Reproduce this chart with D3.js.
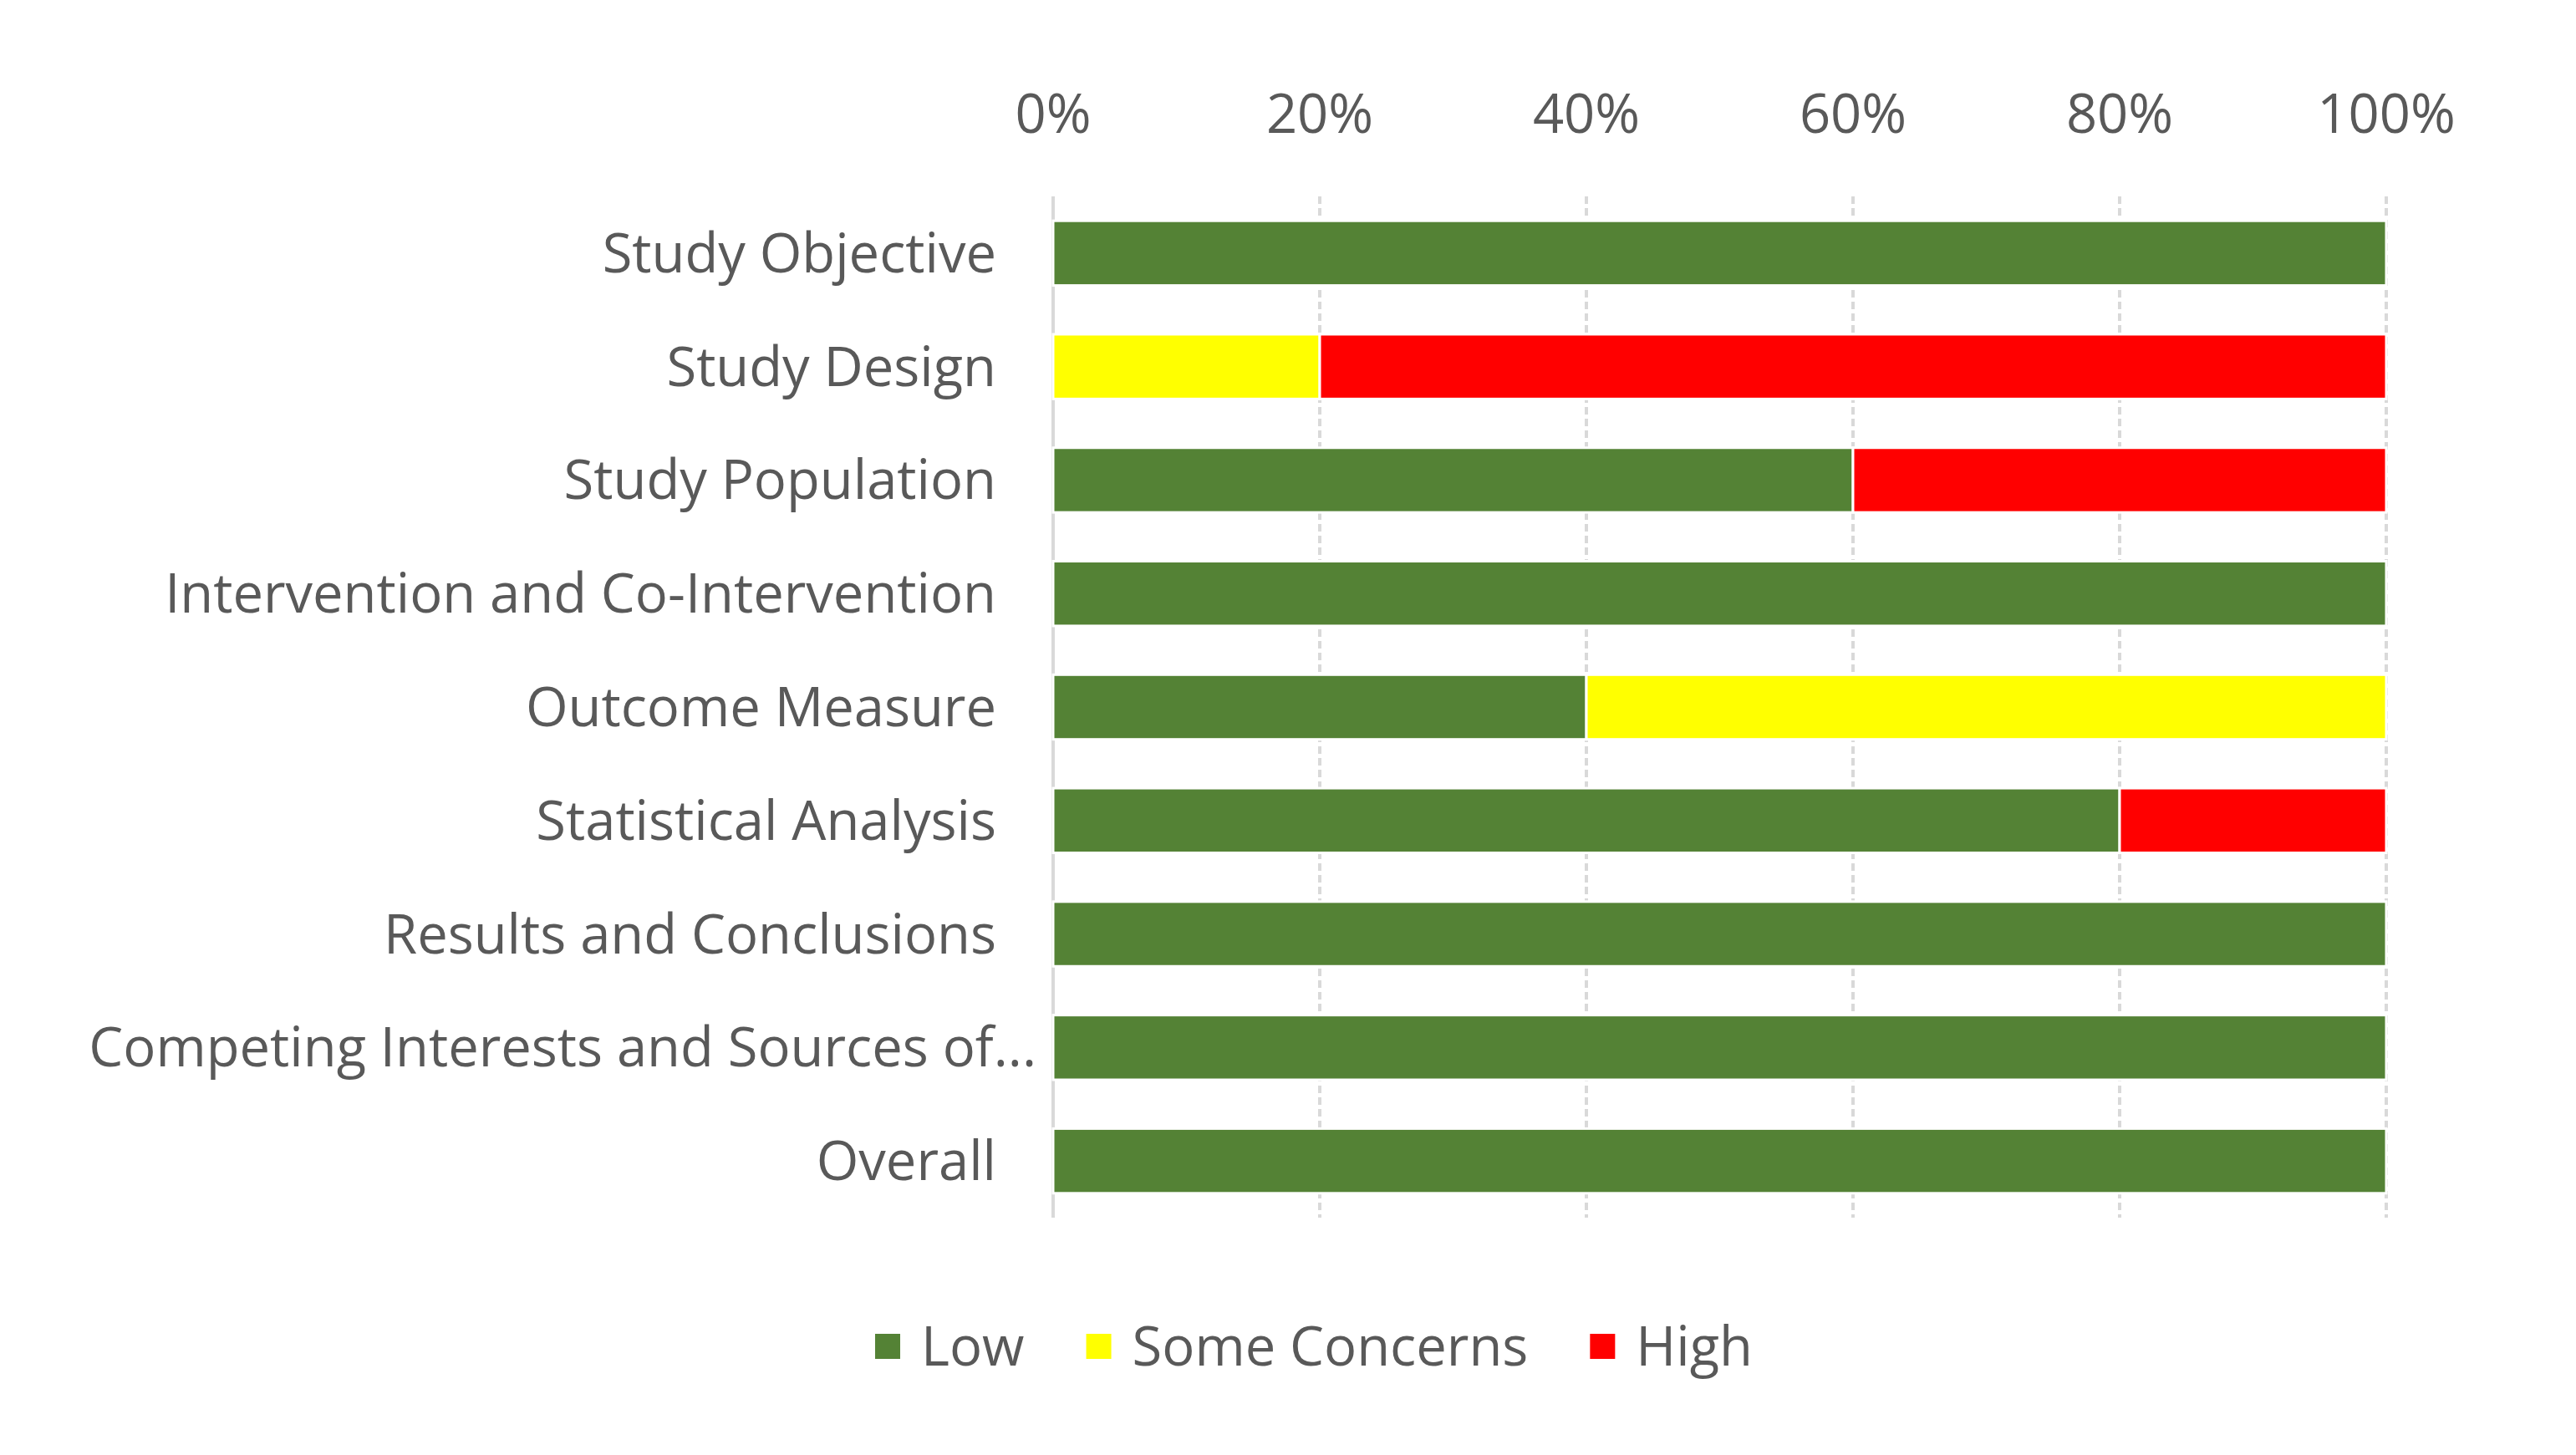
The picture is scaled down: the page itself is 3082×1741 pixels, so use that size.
<!DOCTYPE html>
<html>
<head>
<meta charset="utf-8">
<script src="https://cdn.jsdelivr.net/npm/d3@7"></script>
<style>
html,body{margin:0;padding:0;background:#fff;}
svg{display:block;}
</style>
</head>
<body>
<svg id="chart" width="3082" height="1741"></svg>
<script>
const categories = [
  "Study Objective",
  "Study Design",
  "Study Population",
  "Intervention and Co-Intervention",
  "Outcome Measure",
  "Statistical Analysis",
  "Results and Conclusions",
  "Competing Interests and Sources of...",
  "Overall"
];
const seriesNames = ["Low", "Some Concerns", "High"];
const lowValues     = [100, 0, 60, 100, 40, 80, 100, 100, 100];
const someValues    = [0, 20, 0, 0, 60, 0, 0, 0, 0];
const highValues    = [0, 80, 40, 0, 0, 20, 0, 0, 0];
const tickValues    = [0, 20, 40, 60, 80, 100];
const seriesColors  = ["#548235", "#FFFF00", "#FF0000"];

const FONT = "'Open Sans', sans-serif";
const FS = 65;
const TXT = "#595959";

const svg = d3.select("#chart");

const x = d3.scaleLinear().domain([0, 100]).range([1260, 2855]);
const y = d3.scaleBand().domain(categories).range([235, 1457]).paddingInner(0.43).paddingOuter(0.215);

// horizontal compression to mimic a narrow font
const probe = svg.append("text").attr("font-family", FONT).attr("font-size", FS)
  .text("Intervention and Co-Intervention");
const natural = probe.node().getComputedTextLength();
probe.remove();
const sx = 995 / natural;

// gridlines
const grid = svg.append("g");
grid.selectAll("line").data(tickValues).join("line")
  .attr("x1", d => x(d)).attr("x2", d => x(d))
  .attr("y1", y.range()[0]).attr("y2", y.range()[1])
  .attr("stroke", "#d9d9d9").attr("stroke-width", 4)
  .attr("stroke-dasharray", d => d === 0 ? null : "9,5");

// tick labels (top)
const tg = svg.append("g");
tg.selectAll("text").data(tickValues).join("text")
  .attr("transform", d => `translate(${x(d)},159) scale(${sx},1)`)
  .attr("text-anchor", "middle")
  .attr("font-family", FONT).attr("font-size", FS).attr("fill", TXT)
  .text(d => d + "%");

// stacked data
const rows = categories.map((c, i) => ({cat: c, Low: lowValues[i], "Some Concerns": someValues[i], High: highValues[i]}));
const stack = d3.stack().keys(seriesNames)(rows);

const bars = svg.append("g");
stack.forEach((layer, si) => {
  bars.append("g").attr("fill", seriesColors[si])
    .selectAll("rect").data(layer.filter(d => d[1] - d[0] > 0)).join("rect")
    .attr("x", d => x(d[0]))
    .attr("width", d => x(d[1]) - x(d[0]))
    .attr("y", d => y(d.data.cat))
    .attr("height", y.bandwidth())
    .attr("stroke", "#ffffff").attr("stroke-width", 3);
});

// category labels
const cg = svg.append("g");
cg.selectAll("text").data(categories).join("text")
  .attr("transform", d => {
    const xe = d.endsWith("...") ? x(0) - 20 : x(0) - 68;
    return `translate(${xe},${y(d) + y.bandwidth() / 2 + 23}) scale(${sx},1)`;
  })
  .attr("text-anchor", "end")
  .attr("font-family", FONT).attr("font-size", FS).attr("fill", TXT)
  .text(d => d);

// legend
const lg = svg.append("g");
const items = [];
let cx = 0;
const GAP = 74;
seriesNames.forEach((name, i) => {
  const g = lg.append("g");
  g.append("rect").attr("x", 0).attr("y", -15).attr("width", 30).attr("height", 30).attr("fill", seriesColors[i]);
  const t = g.append("text").attr("font-family", FONT).attr("font-size", FS).attr("fill", TXT)
    .attr("transform", `translate(55,23) scale(${sx},1)`).text(name);
  const w = 55 + t.node().getComputedTextLength() * sx;
  items.push({g, off: cx});
  cx += w + GAP;
});
const totalW = cx - GAP;
const startX = 1572 - totalW / 2;
items.forEach(it => it.g.attr("transform", `translate(${startX + it.off},1611)`));
</script>
</body>
</html>
